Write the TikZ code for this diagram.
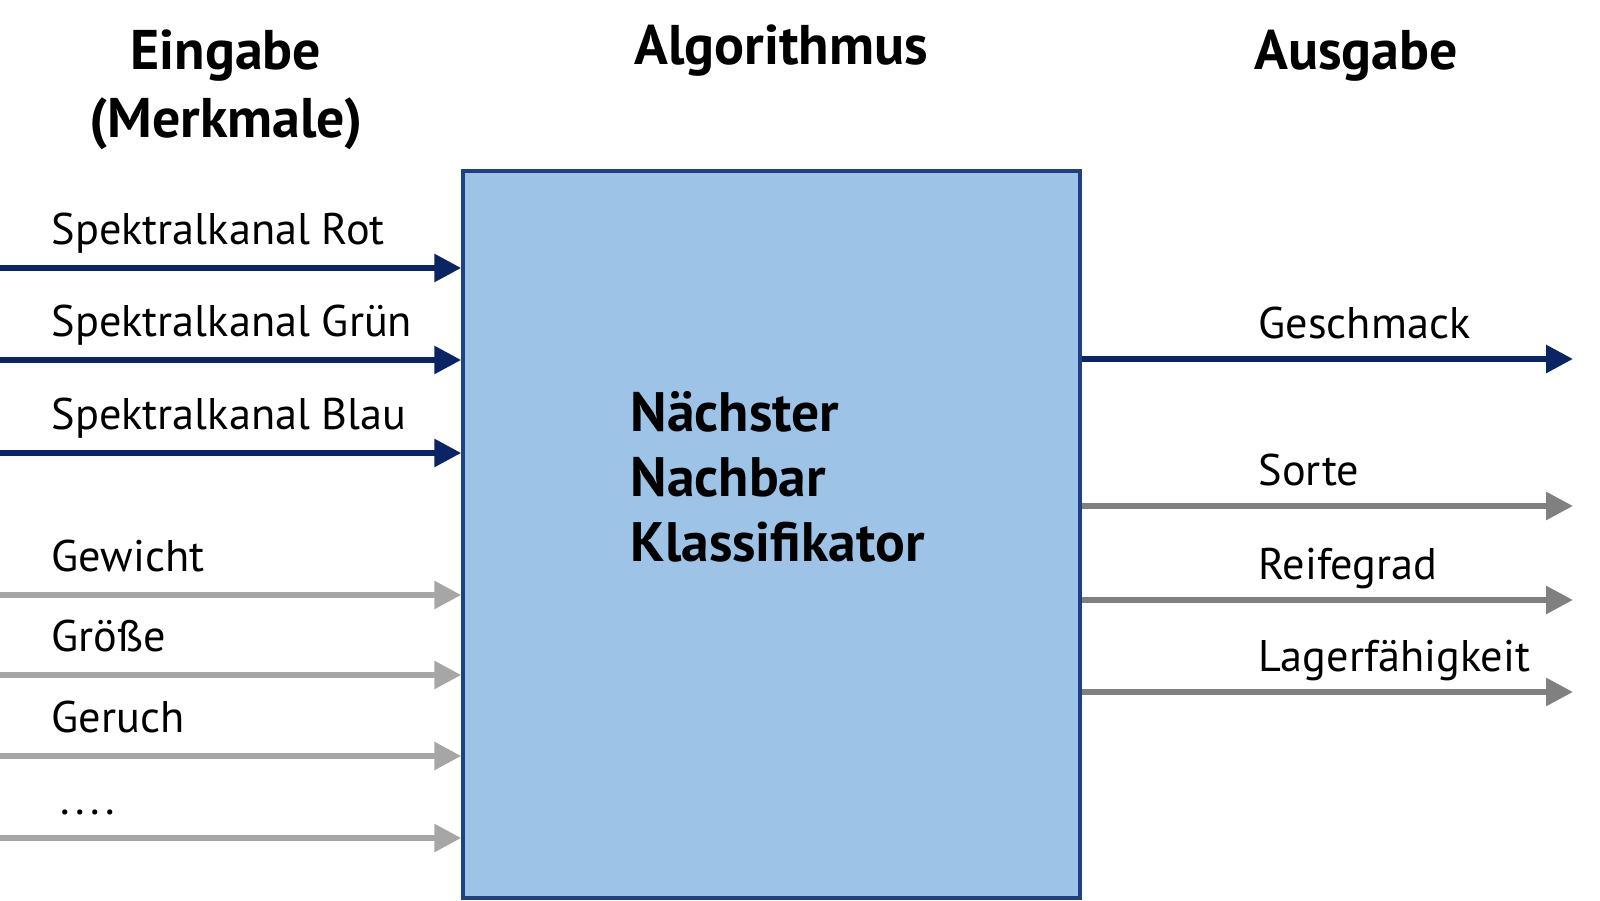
\documentclass[tikz,border=0pt]{standalone}
\usepackage{fontspec}
\setmainfont{PT Sans}
\usetikzlibrary{arrows.meta,positioning}

\definecolor{navy}{HTML}{0B2464}
\definecolor{boxblue}{HTML}{9DC3E6}
\definecolor{boxline}{HTML}{213F83}
\definecolor{ingray}{HTML}{A6A6A6}
\definecolor{outgray}{HTML}{808080}

\newcommand{\fourdots}{\hspace{2.5pt}.\kern1.6pt.\kern1.6pt.\kern1.6pt.}

\tikzset{
  arr/.style={line width=1.7pt, -{Triangle[length=2.7mm,width=2.7mm]}},
  lbl/.style={anchor=base west, inner sep=0pt, font=\fontsize{12.6}{15}\selectfont},
  head/.style={anchor=base, inner sep=0pt, font=\fontsize{15.9}{19}\selectfont\bfseries},
}

\begin{document}
\begin{tikzpicture}[x=0.1mm, y=-0.1mm]
  \useasboundingbox (0,0) rectangle (1600,901);
  % Ueberschriften
  \node[head] (eing) at (226,70) {Eingabe};
  \node[head] (merk) at (226,138) {(Merkmale)};
  \node[head] (algo) at (781,65) {Algorithmus};
  \node[head] (ausg) at (1356,70) {Ausgabe};
  % Klassifikator
  \node[draw=boxline, line width=1pt, fill=boxblue, minimum width=61.7mm, minimum height=72.7mm] (knn) at (771.5,534.5) {};
  \node[anchor=base west, inner sep=0pt, align=left, font=\fontsize{15.8}{18.5}\selectfont\bfseries] (knnt) at (630,562) {N\"achster\\Nachbar\\Klassifikator};
  % Eingaben
  \foreach \y/\txt/\col [count=\i] in {268/Spektralkanal Rot/navy, 360/Spektralkanal Gr\"un/navy, 453/Spektralkanal Blau/navy,
      595/Gewicht/ingray, 675/Gr\"o\ss e/ingray, 756/Geruch/ingray, 838/\fourdots/ingray} {
    \coordinate (in\i) at (0,\y);
    \node[lbl] (inl\i) at (51,\y-23) {\txt};
    \draw[arr, \col] (in\i) -- (in\i -| knn.west);
  }
  % Ausgaben
  \foreach \y/\txt/\col [count=\i] in {359/Geschmack/navy, 506/Sorte/outgray, 600/Reifegrad/outgray, 692/Lagerf\"ahigkeit/outgray} {
    \coordinate (out\i) at (1573,\y);
    \node[lbl] (outl\i) at (1258,\y-20) {\txt};
    \draw[arr, \col] (out\i -| knn.east) -- (out\i);
  }
\end{tikzpicture}
\end{document}
